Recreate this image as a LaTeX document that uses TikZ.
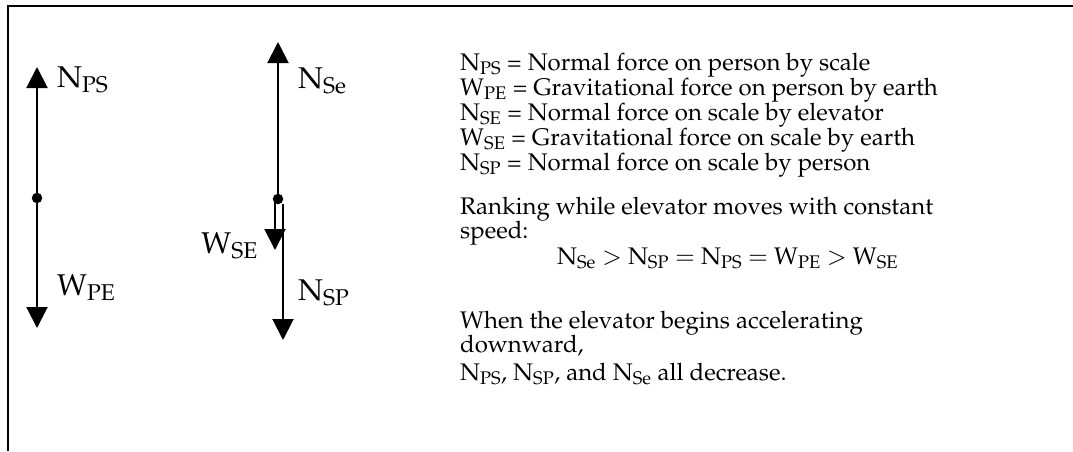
\documentclass[tikz,border=0pt]{standalone}
\usepackage[T1]{fontenc}
\usepackage{mathpazo}
\usetikzlibrary{arrows.meta,positioning}

\tikzset{
  force/.style={line width=2pt, -{Triangle[length=21pt,width=21pt]}},
  dot/.style={circle, fill, inner sep=0pt, minimum size=10.5pt},
  lbl/.style={font=\fontsize{30}{36}\selectfont, anchor=base west, inner sep=0pt},
  txt/.style={font=\fontsize{24}{25}\selectfont, anchor=base west, inner sep=0pt},
}

\begin{document}
\begin{tikzpicture}[x=1pt,y=-1pt]
  \useasboundingbox (0,0) rectangle (1073,451);
  % Rahmen
  \draw[line width=2pt] (8,451) -- (8,6) -- (1073,6);

  % Person
  \node[dot] (p) at (37,198) {};
  \coordinate (ps) at (37,67);
  \coordinate (pe) at (37,328);
  \draw[force] (p.center) -- (ps);
  \draw[force] (p.center) -- (pe);
  \node[lbl] (nps) at (57,87) {N\textsubscript{PS}};
  \node[lbl] (wpe) at (57,295) {W\textsubscript{PE}};

  % Waage
  \node[dot] (s) at (278,199) {};
  \coordinate (nse) at (278,42);
  \coordinate (wse) at (275,250);
  \coordinate (nsp) at (283,340);
  \draw[force] (s.center) -- (nse);
  \draw[force] (wse |- s.center) -- (wse);
  \draw[force] (nsp |- s.south) -- (nsp);
  \node[lbl] (lnse) at (298,88) {N\textsubscript{Se}};
  \node[lbl, anchor=base east] (lwse) at (258,253) {W\textsubscript{SE}};
  \node[lbl] (lnsp) at (298,300) {N\textsubscript{SP}};

  % Legende
  \node[txt] (t1) at (460,70) {N\textsubscript{PS} = Normal force on person by scale};
  \node[txt] (t2) at (460,95) {W\textsubscript{PE} = Gravitational force on person by earth};
  \node[txt] (t3) at (460,120) {N\textsubscript{SE} = Normal force on scale by elevator};
  \node[txt] (t4) at (460,145) {W\textsubscript{SE} = Gravitational force on scale by earth};
  \node[txt] (t5) at (460,170) {N\textsubscript{SP} = Normal force on scale by person};

  % Rangfolge
  \node[txt] (r1) at (460,214) {Ranking while elevator moves with constant};
  \node[txt] (r2) at (460,238) {speed:};
  \node[txt] (r3) at (557,264) {N\textsubscript{Se} $>$ N\textsubscript{SP} $=$ N\textsubscript{PS} $=$ W\textsubscript{PE} $>$ W\textsubscript{SE}};

  % Beschleunigung
  \node[txt] (a1) at (460,328) {When the elevator begins accelerating};
  \node[txt] (a2) at (460,352) {downward,};
  \node[txt] (a3) at (460,380) {N\textsubscript{PS}, N\textsubscript{SP}, and N\textsubscript{Se} all decrease.};
\end{tikzpicture}
\end{document}
